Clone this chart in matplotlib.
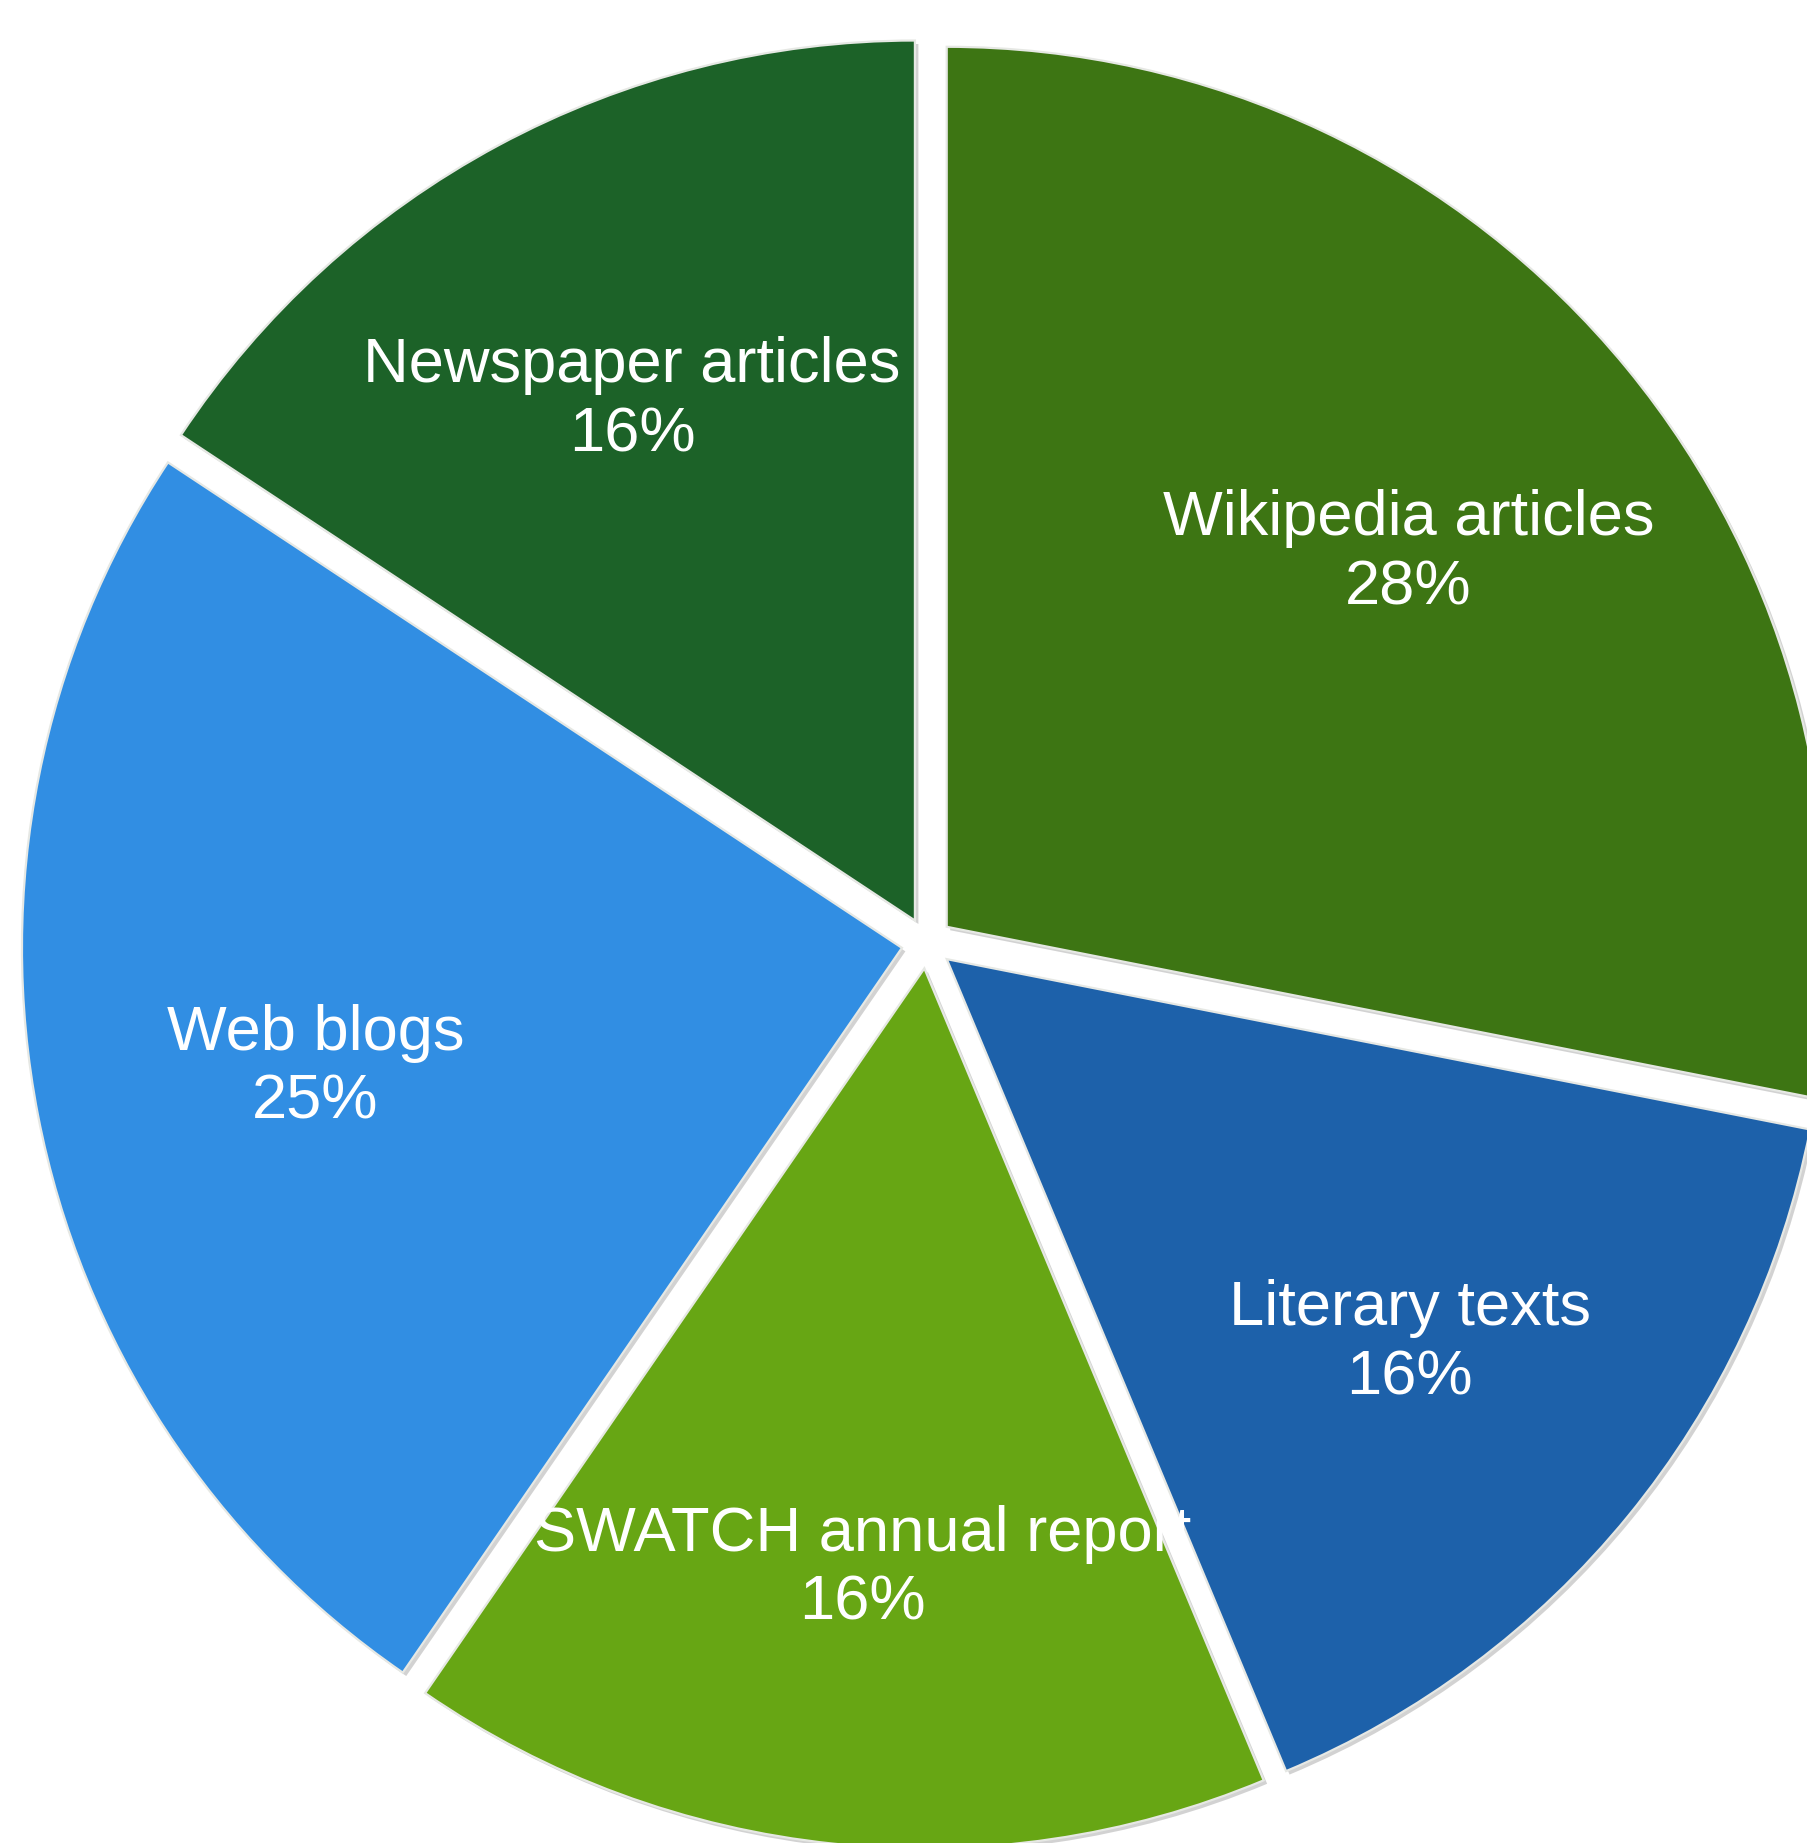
import matplotlib
matplotlib.use("Agg")
import matplotlib.pyplot as plt
import matplotlib.patheffects as pe

categories = ["Wikipedia articles", "Literary texts", "SWATCH annual report",
              "Web blogs", "Newspaper articles"]
values = [28.1, 15.6, 15.9, 24.7, 15.7]
colors = ["#3d7513", "#1d61aa", "#67a614", "#318ee3", "#1c6228"]

total = sum(values)
labels = [f"{c}\n{round(v / total * 100):.0f}%" for c, v in zip(categories, values)]

W, H = 1808, 1843
R = 880.0
cx, cy = 927.0, 943.0  # pie centre in pixels (from top-left)

plt.rcParams['font.family'] = ['Liberation Sans', 'DejaVu Sans']

fig = plt.figure(figsize=(W / 100, H / 100), dpi=100)
ax = fig.add_axes([0, 0, 1, 1])

wedges, texts = ax.pie(
    values, labels=labels, colors=colors, startangle=90, counterclock=False,
    explode=[0.029] * len(values), radius=1.0, center=(0, 0),
    labeldistance=0.679,
    wedgeprops=dict(edgecolor="#e6e8e4", linewidth=1.6),
    textprops=dict(color="white", fontsize=45.5),
)

for w in wedges:
    w.set_path_effects([pe.SimplePatchShadow(offset=(2.5, -2.5), shadow_rgbFace="#808080", alpha=0.35),
                        pe.Normal()])

for t, w in zip(texts, wedges):
    t.set_horizontalalignment("center")
    t.set_verticalalignment("center")
    t.set_multialignment("center")
    t.set_linespacing(1.22)
    x, y = t.get_position()
    t.set_position((x, y - 0.007))
    t.set_clip_path(w)

ax.set_xlim(-cx / R, (W - cx) / R)
ax.set_ylim(-(H - cy) / R, cy / R)
ax.set_aspect("auto")
ax.axis("off")

fig.savefig("out.png", dpi=100, facecolor="white")
